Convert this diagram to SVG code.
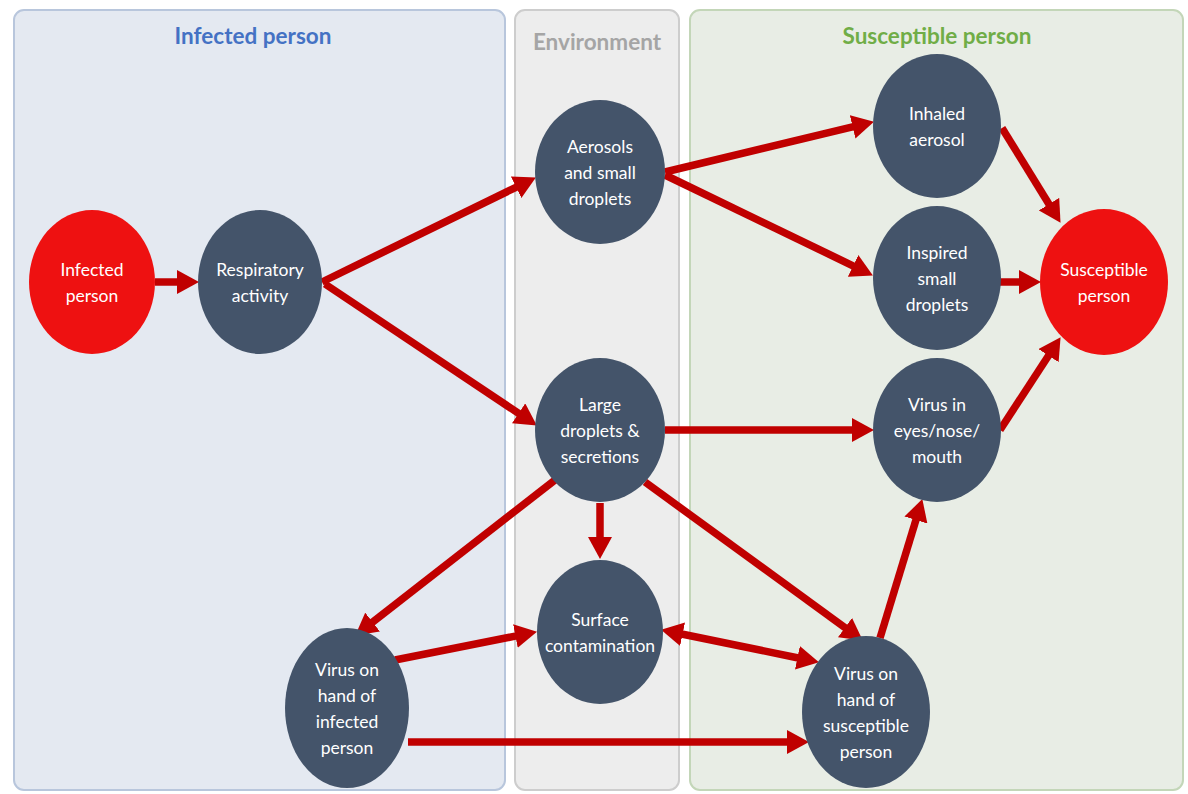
<svg xmlns="http://www.w3.org/2000/svg" width="1188" height="794" viewBox="0 0 1188 794">
<defs>
<marker id="ah" markerUnits="userSpaceOnUse" markerWidth="22" markerHeight="24" refX="1" refY="12" orient="auto-start-reverse" viewBox="0 0 22 24">
<path d="M0,0 L22,12 L0,24 z" fill="#C00000"/>
</marker>
<style>
.title{font-family:Lato,"Open Sans","Liberation Sans",sans-serif;font-weight:bold;font-size:22.5px;text-anchor:middle}
.lbl{font-family:Lato,"Open Sans","Liberation Sans",sans-serif;font-size:17.5px;fill:#FFFFFF;text-anchor:middle;dominant-baseline:central}
.dark{fill:#44546A}
.red{fill:#EE1111}
.conn line{stroke:#C00000;stroke-width:7.5;marker-end:url(#ah)}
</style>
</defs>
<rect width="1188" height="794" fill="#FFFFFF"/>
<g id="panel-infected">
<rect x="14" y="10" width="491" height="780" rx="10" fill="#E4E9F1" stroke="#B8C6DC" stroke-width="2"/>
<text class="title" x="253" y="44" fill="#4472C4">Infected person</text>
</g>
<g id="panel-environment">
<rect x="515" y="10" width="164" height="780" rx="10" fill="#EDEDED" stroke="#CDCDCD" stroke-width="2"/>
<text class="title" x="597" y="50" fill="#A5A5A5">Environment</text>
</g>
<g id="panel-susceptible">
<rect x="690" y="10" width="493" height="780" rx="10" fill="#E8EDE5" stroke="#C3D6B8" stroke-width="2"/>
<text class="title" x="937" y="44" fill="#70AD47">Susceptible person</text>
</g>
<g id="connectors" class="conn">
<line x1="155" y1="282" x2="178" y2="282"/>
<line x1="322" y1="282" x2="517" y2="186.8"/>
<line x1="325" y1="284" x2="519.4" y2="413.9"/>
<line x1="665" y1="172" x2="853.6" y2="126.7"/>
<line x1="665" y1="175" x2="854" y2="266.3"/>
<line x1="1002" y1="128" x2="1049.5" y2="205"/>
<line x1="1000" y1="282" x2="1020" y2="282"/>
<line x1="1000" y1="430" x2="1049.1" y2="354.8"/>
<line x1="665" y1="430" x2="853" y2="430"/>
<line x1="600" y1="503" x2="600" y2="538"/>
<line x1="555" y1="480" x2="371.8" y2="622.7"/>
<line x1="645" y1="482" x2="845.8" y2="628.2"/>
<line x1="395" y1="660" x2="516.4" y2="635.9"/>
<line x1="681.6" y1="634" x2="798.4" y2="658" style="marker-start:url(#ah)"/>
<line x1="408" y1="742" x2="788" y2="742"/>
<line x1="880" y1="638" x2="916.2" y2="519.1"/>
</g>
<g id="n-infected">
<ellipse class="red" cx="92" cy="282" rx="63" ry="72"/>
<text class="lbl" x="92" y="282"><tspan x="92" dy="-13">Infected</tspan><tspan x="92" dy="26">person</tspan></text>
</g>
<g id="n-respiratory">
<ellipse class="dark" cx="260" cy="282" rx="62" ry="72"/>
<text class="lbl" x="260" y="282"><tspan x="260" dy="-13">Respiratory</tspan><tspan x="260" dy="26">activity</tspan></text>
</g>
<g id="n-aerosols">
<ellipse class="dark" cx="600" cy="172" rx="65" ry="72"/>
<text class="lbl" x="600" y="172"><tspan x="600" dy="-26">Aerosols</tspan><tspan x="600" dy="26">and small</tspan><tspan x="600" dy="26">droplets</tspan></text>
</g>
<g id="n-large">
<ellipse class="dark" cx="600" cy="430" rx="65" ry="72"/>
<text class="lbl" x="600" y="430"><tspan x="600" dy="-26">Large</tspan><tspan x="600" dy="26">droplets &amp;</tspan><tspan x="600" dy="26">secretions</tspan></text>
</g>
<g id="n-surface">
<ellipse class="dark" cx="600" cy="632" rx="63" ry="72"/>
<text class="lbl" x="600" y="632"><tspan x="600" dy="-13">Surface</tspan><tspan x="600" dy="26">contamination</tspan></text>
</g>
<g id="n-hand-infected">
<ellipse class="dark" cx="347" cy="708" rx="62" ry="80"/>
<text class="lbl" x="347" y="708"><tspan x="347" dy="-39">Virus on</tspan><tspan x="347" dy="26">hand of</tspan><tspan x="347" dy="26">infected</tspan><tspan x="347" dy="26">person</tspan></text>
</g>
<g id="n-inhaled">
<ellipse class="dark" cx="937" cy="126" rx="64" ry="72"/>
<text class="lbl" x="937" y="126"><tspan x="937" dy="-13">Inhaled</tspan><tspan x="937" dy="26">aerosol</tspan></text>
</g>
<g id="n-inspired">
<ellipse class="dark" cx="937" cy="278" rx="64" ry="72"/>
<text class="lbl" x="937" y="278"><tspan x="937" dy="-26">Inspired</tspan><tspan x="937" dy="26">small</tspan><tspan x="937" dy="26">droplets</tspan></text>
</g>
<g id="n-susceptible">
<ellipse class="red" cx="1104" cy="282" rx="64" ry="73"/>
<text class="lbl" x="1104" y="282"><tspan x="1104" dy="-13">Susceptible</tspan><tspan x="1104" dy="26">person</tspan></text>
</g>
<g id="n-eyes">
<ellipse class="dark" cx="937" cy="430" rx="64" ry="72"/>
<text class="lbl" x="937" y="430"><tspan x="937" dy="-26">Virus in</tspan><tspan x="937" dy="26">eyes/nose/</tspan><tspan x="937" dy="26">mouth</tspan></text>
</g>
<g id="n-hand-susceptible">
<ellipse class="dark" cx="866" cy="712" rx="64" ry="76"/>
<text class="lbl" x="866" y="712"><tspan x="866" dy="-39">Virus on</tspan><tspan x="866" dy="26">hand of</tspan><tspan x="866" dy="26">susceptible</tspan><tspan x="866" dy="26">person</tspan></text>
</g>
</svg>
